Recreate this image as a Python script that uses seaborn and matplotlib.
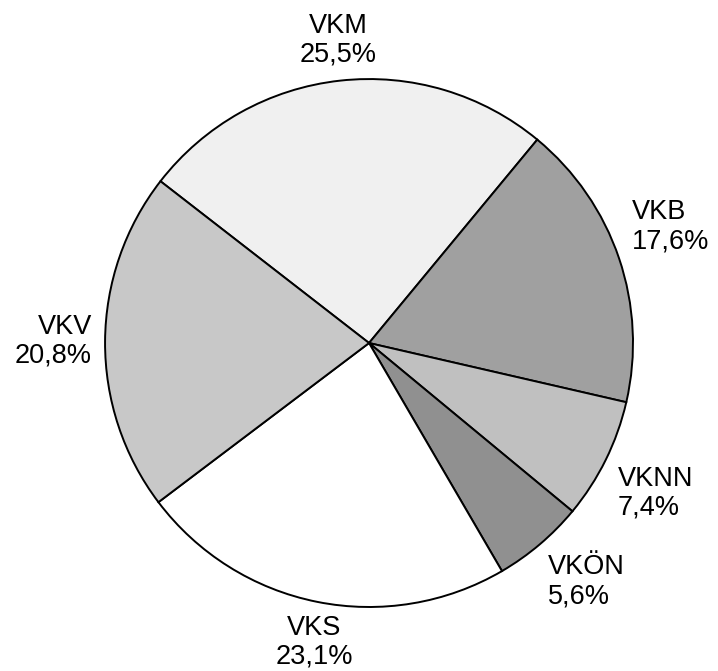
import numpy as np
import matplotlib
matplotlib.use("Agg")
import matplotlib.pyplot as plt
import seaborn as sns

categories = ["VKM", "VKB", "VKNN", "VKÖN", "VKS", "VKV"]
values = [25.5, 17.6, 7.4, 5.6, 23.1, 20.8]
colors = ["#f0f0f0", "#a0a0a0", "#c0c0c0", "#909090", "#ffffff", "#c8c8c8"]

sns.set_style("white")
plt.rcParams["font.family"] = ["Liberation Sans", "DejaVu Sans"]

fig = plt.figure(figsize=(7.18, 6.71), dpi=100)
ax = fig.add_axes([0, 0, 1, 1])
wedges, _ = ax.pie(values, colors=colors, startangle=142.2, counterclock=False,
                   radius=1.0,
                   wedgeprops=dict(edgecolor="black", linewidth=1.4))
ax.set_aspect("equal")
ax.set_xlim(-1.398, 1.322)
ax.set_ylim(-1.242, 1.299)
ax.axis("off")

for w, cat, v in zip(wedges, categories, values):
    ang = np.deg2rad((w.theta1 + w.theta2) / 2)
    c, s = np.cos(ang), np.sin(ang)
    x, y = 1.05 * c, 1.05 * s
    ha = "left" if c > 0.3 else ("right" if c < -0.3 else "center")
    va = "bottom" if s > 0.3 else ("top" if s < -0.3 else "center")
    label = f"{cat}\n{v:.1f}%".replace(".", ",")
    ax.text(x, y, label, ha=ha, va=va, multialignment=ha if ha != "center" else "center",
            fontsize=19.5, linespacing=1.15, color="black")

fig.savefig("out.png", dpi=100, facecolor="white")
